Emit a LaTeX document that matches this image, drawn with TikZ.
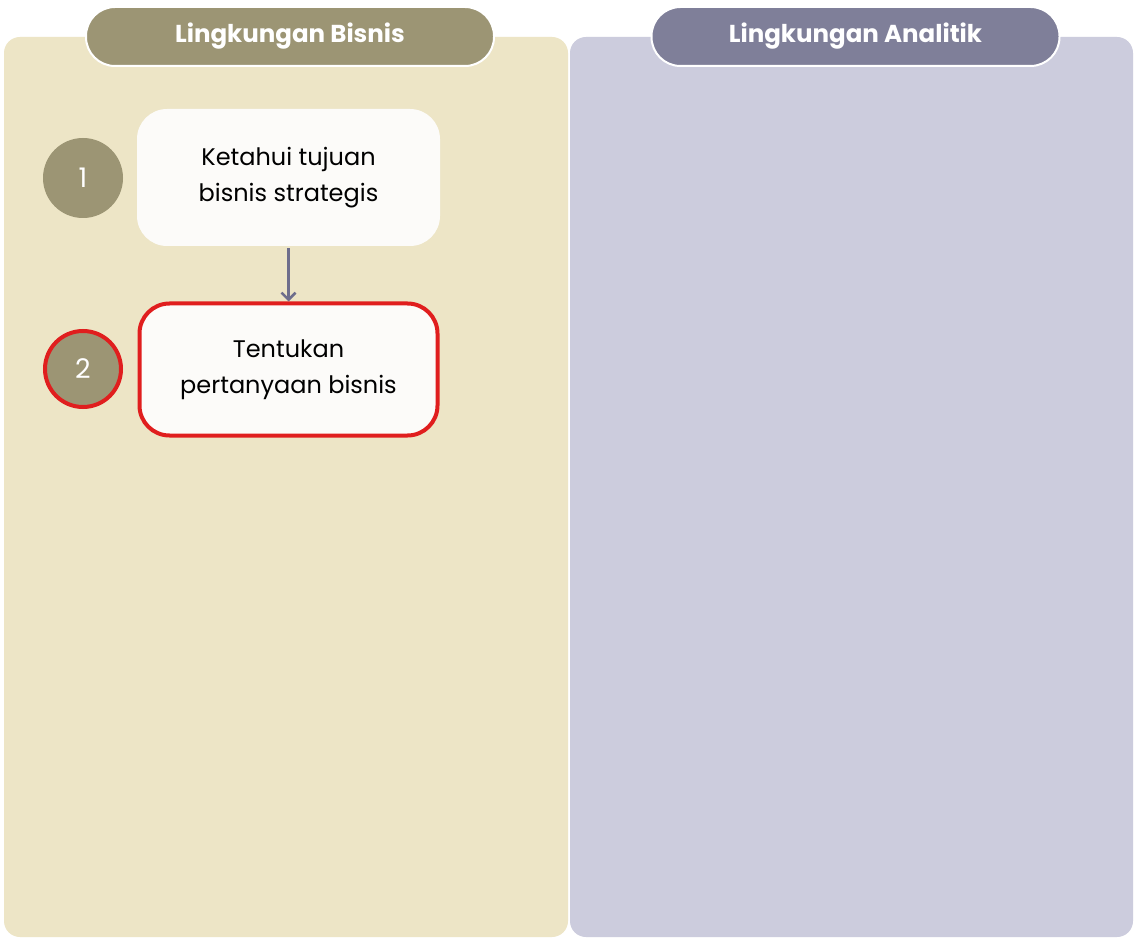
\documentclass[tikz,border=0pt]{standalone}
\usepackage{fontspec}
\setmainfont{Poppins}
\usetikzlibrary{arrows.meta}
\definecolor{leftbg}{HTML}{EDE5C6}
\definecolor{rightbg}{HTML}{CCCCDD}
\definecolor{olive}{HTML}{9C9574}
\definecolor{slate}{HTML}{7F7F99}
\definecolor{boxfill}{HTML}{FCFBF9}
\definecolor{hired}{HTML}{E01E1E}
\definecolor{arrowc}{HTML}{6E6E8C}
\tikzset{
  panel/.style={rounded corners=16pt, inner sep=0pt},
  titlepill/.style={rounded corners=29pt, draw=white, line width=2pt, text=white, font=\fontsize{24.5}{28}\selectfont\bfseries, minimum width=408pt, minimum height=59pt, inner sep=0pt},
  numcircle/.style={circle, fill=olive, minimum size=80pt, inner sep=0pt, text=white, font=\fontsize{27}{30}\selectfont},
  stepbox/.style={rounded corners=30pt, fill=boxfill, minimum width=303pt, minimum height=137pt, inner sep=0pt, align=center, font=\fontsize{24}{36}\selectfont, text=black},
  hilite/.style={draw=hired, line width=4pt},
  flow/.style={draw=arrowc, line width=2.5pt, -{Straight Barb[length=7pt,width=14pt]}}
}
\begin{document}
\begin{tikzpicture}[x=1pt,y=-1pt]
\useasboundingbox (0,0) rectangle (1136,944);
\fill[white] (0,0) rectangle (1136,944);
\fill[leftbg, rounded corners=16pt] (4,37) rectangle (568,937);
\fill[rightbg, rounded corners=16pt] (570,37) rectangle (1133,937);
\node[titlepill, fill=olive] (tl) at (290,36.5) {\raisebox{-2pt}{Lingkungan Bisnis}};
\node[titlepill, fill=slate] (tr) at (855.5,36.5) {\raisebox{-2pt}{Lingkungan Analitik}};
\node[numcircle] (c1) at (83,178) {1};
\node[numcircle, hilite, minimum size=76pt] (c2) at (83,369) {2};
\node[stepbox] (b1) at (288.5,177.5) {Ketahui tujuan\\bisnis strategis};
\node[stepbox, hilite, minimum width=298pt, minimum height=132pt] (b2) at (288.5,369.5) {Tentukan\\pertanyaan bisnis};
\draw[flow] (b1.south) ++(0,2) coordinate (a0) -- (b2.north);
\end{tikzpicture}
\end{document}
